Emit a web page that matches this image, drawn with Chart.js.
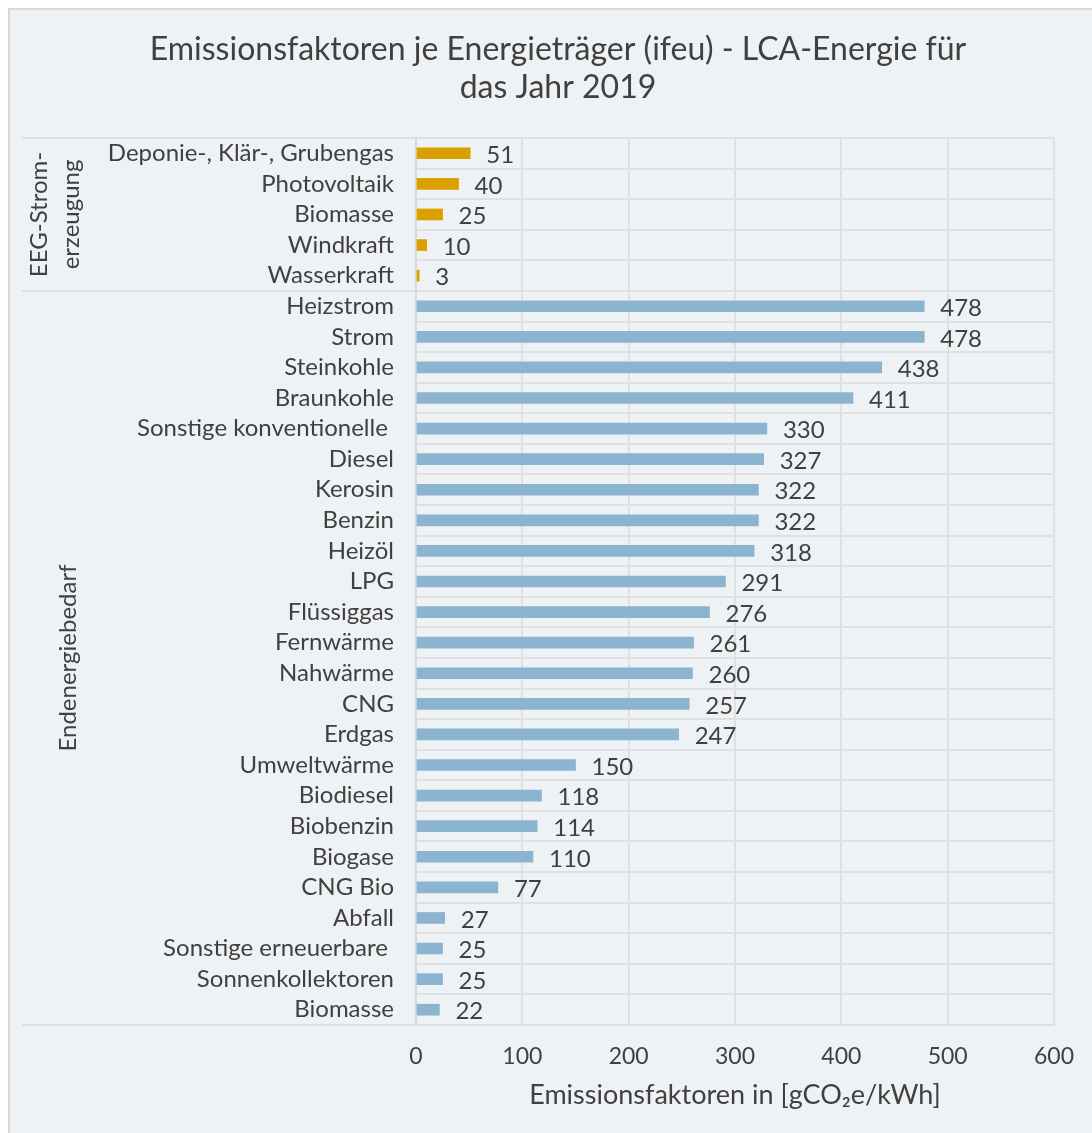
<!DOCTYPE html>
<html>
<head>
<meta charset="utf-8">
<script src="https://cdn.jsdelivr.net/npm/chart.js@4.4.1/dist/chart.umd.min.js"></script>
<style>
  html, body { margin: 0; padding: 0; background: #ffffff; }
  #wrap { position: relative; width: 1092px; height: 1133px; }
  canvas { display: block; }
</style>
</head>
<body>
<div id="wrap"><canvas id="c" width="1092" height="1133"></canvas></div>
<script>
// ---- Data ----
const categories = [
  "Deponie-, Klär-, Grubengas", "Photovoltaik", "Biomasse", "Windkraft", "Wasserkraft",
  "Heizstrom", "Strom", "Steinkohle", "Braunkohle", "Sonstige konventionelle ",
  "Diesel", "Kerosin", "Benzin", "Heizöl", "LPG",
  "Flüssiggas", "Fernwärme", "Nahwärme", "CNG", "Erdgas",
  "Umweltwärme", "Biodiesel", "Biobenzin", "Biogase", "CNG Bio",
  "Abfall", "Sonstige erneuerbare ", "Sonnenkollektoren", "Biomasse"
];
const values = [
  51, 40, 25, 10, 3,
  478, 478, 438, 411, 330,
  327, 322, 322, 318, 291,
  276, 261, 260, 257, 247,
  150, 118, 114, 110, 77,
  27, 25, 25, 22
];
const groupNames = [["EEG-Strom-", "erzeugung"], ["Endenergiebedarf"]];
const groupSizes = [5, 24];
const groupColors = ["#d9a000", "#8bb4d0"];
const xTicks = [0, 100, 200, 300, 400, 500, 600];
const titleLines = ["Emissionsfaktoren je Energieträger (ifeu) - LCA-Energie für", "das Jahr 2019"];
const xTitle = "Emissionsfaktoren in [gCO\u2082e/kWh]";

// ---- derived ----
const barColors = [];
groupSizes.forEach((n, g) => { for (let i = 0; i < n; i++) barColors.push(groupColors[g]); });

const TEXT = "#404040";
const GRID = "#e0e0e0";
const FONT = "Lato, 'Open Sans', sans-serif";

const framePlugin = {
  id: "frame",
  beforeDraw(chart) {
    const ctx = chart.ctx;
    ctx.save();
    ctx.fillStyle = "#ffffff";
    ctx.fillRect(0, 0, chart.width, chart.height);
    ctx.fillStyle = "#eff2f5";
    ctx.fillRect(9, 9, chart.width - 9, chart.height - 9);
    ctx.strokeStyle = "#d9d9d9";
    ctx.lineWidth = 2;
    ctx.beginPath();
    ctx.moveTo(9, chart.height);
    ctx.lineTo(9, 9);
    ctx.lineTo(chart.width, 9);
    ctx.stroke();
    // title
    ctx.fillStyle = TEXT;
    ctx.font = "32px " + FONT;
    ctx.textAlign = "center";
    ctx.textBaseline = "middle";
    ctx.fillText(titleLines[0], 558, 50);
    ctx.fillText(titleLines[1], 558, 88);
    ctx.restore();
  },
  afterDraw(chart) {
    const ctx = chart.ctx;
    const ys = chart.scales.y;
    const area = chart.chartArea;
    ctx.save();
    // group separators
    ctx.strokeStyle = GRID;
    ctx.lineWidth = 2;
    const bounds = [area.top];
    let idx = 0;
    groupSizes.forEach((n, g) => {
      idx += n;
      if (idx < categories.length) {
        bounds.push((ys.getPixelForValue(idx - 1) + ys.getPixelForValue(idx)) / 2);
      } else {
        bounds.push(area.bottom);
      }
    });
    bounds.forEach(b => {
      ctx.beginPath();
      ctx.moveTo(22, b);
      ctx.lineTo(area.left, b);
      ctx.stroke();
    });
    // group labels
    ctx.fillStyle = TEXT;
    ctx.font = "24px " + FONT;
    ctx.textAlign = "center";
    ctx.textBaseline = "middle";
    groupNames.forEach((lines, g) => {
      const cy = (bounds[g] + bounds[g + 1]) / 2;
      const xs = lines.length === 2 ? [39, 71] : [68];
      lines.forEach((t, k) => {
        ctx.save();
        ctx.translate(xs[k], cy);
        ctx.rotate(-Math.PI / 2);
        ctx.fillText(t, 0, 0);
        ctx.restore();
      });
    });
    // data labels
    ctx.font = "24px " + FONT;
    ctx.textAlign = "left";
    const meta = chart.getDatasetMeta(0);
    meta.data.forEach((bar, i) => {
      ctx.fillText(String(values[i]), bar.x + 16, bar.y + 2);
    });
    ctx.restore();
  }
};

new Chart(document.getElementById("c"), {
  type: "bar",
  data: {
    labels: categories,
    datasets: [{
      data: values,
      backgroundColor: barColors,
      borderWidth: 0,
      barThickness: 11
    }]
  },
  options: {
    indexAxis: "y",
    responsive: false,
    animation: false,
    layout: { padding: { top: 138, right: 37, left: 0, bottom: 0 } },
    plugins: {
      legend: { display: false },
      title: { display: false },
      tooltip: { enabled: false }
    },
    scales: {
      x: {
        min: 0, max: 600,
        afterBuildTicks(scale) { scale.ticks = xTicks.map(v => ({ value: v })); },
        afterFit(scale) { scale.height = 108; },
        grid: { color: GRID, lineWidth: 2, drawTicks: false },
        border: { display: true, color: GRID, width: 2 },
        ticks: {
          color: TEXT, font: { family: FONT, size: 23 }, padding: 18,
          maxRotation: 0
        },
        title: {
          display: true, text: xTitle, color: TEXT,
          font: { family: FONT, size: 27 },
          padding: { top: 0, bottom: 22 }
        }
      },
      y: {
        afterFit(scale) { scale.width = 416; },
        grid: { color: GRID, lineWidth: 2, drawTicks: false, offset: true },
        border: { display: true, color: "#d9d9d9", width: 2 },
        ticks: {
          color: TEXT, font: { family: FONT, size: 24 }, padding: 22, autoSkip: false
        }
      }
    }
  },
  plugins: [framePlugin]
});
</script>
</body>
</html>
